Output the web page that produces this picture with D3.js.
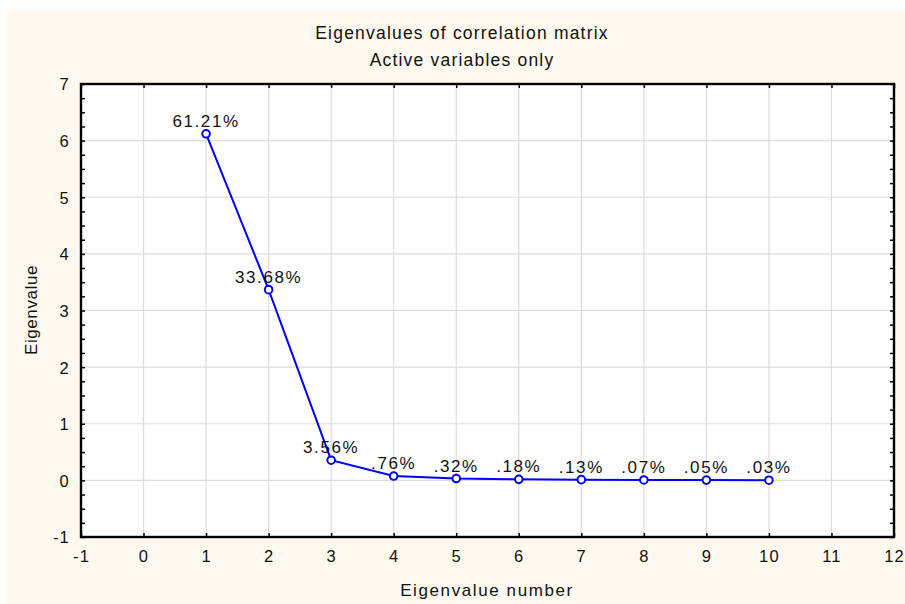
<!DOCTYPE html>
<html>
<script src="https://d3js.org/d3.v7.min.js"></script>
<style>
    body { margin: 0; background: #fff; }
    text { font-family: "Liberation Sans", Arial, sans-serif; fill: #111; }
    .tick text { font-size: 16.5px; letter-spacing: 1.2px; }
    .axis path { display: none; }
</style>
<body>
<svg width="905" height="604"></svg>
<script>
// eigenvalue number, eigenvalue and % of variance
const eigNumbers = [1, 2, 3, 4, 5, 6, 7, 8, 9, 10];
const eigenvalues = [6.121, 3.368, 0.356, 0.076, 0.032, 0.018, 0.013, 0.007, 0.005, 0.003];
const pctLabels = ["61.21%", "33.68%", "3.56%", ".76%", ".32%", ".18%", ".13%", ".07%", ".05%", ".03%"];
const xTicks = [-1, 0, 1, 2, 3, 4, 5, 6, 7, 8, 9, 10, 11, 12];
const yTicks = [-1, 0, 1, 2, 3, 4, 5, 6, 7];

const svg = d3.select('svg');
const pL = 81, pR = 894, pT = 84, pB = 537;

svg.append('rect').attr('x', 7).attr('y', 10).attr('width', 898).attr('height', 594)
    .attr('fill', '#fef9ef');
svg.append('rect').attr('x', pL).attr('y', pT).attr('width', pR - pL).attr('height', pB - pT)
    .attr('fill', '#fff');

const x = d3.scaleLinear().domain([-1, 12]).range([pL, pR]);
const y = d3.scaleLinear().domain([-1, 7]).range([pB, pT]);

// grid
svg.append('g').selectAll('line').data(xTicks.slice(1, -1)).join('line')
    .attr('x1', d => x(d)).attr('x2', d => x(d)).attr('y1', pT).attr('y2', pB)
    .attr('stroke', '#dcdcdc').attr('stroke-width', 1.2);
svg.append('g').selectAll('line').data(yTicks.slice(1, -1)).join('line')
    .attr('y1', d => y(d)).attr('y2', d => y(d)).attr('x1', pL).attr('x2', pR)
    .attr('stroke', '#dcdcdc').attr('stroke-width', 1.2);

// minor ticks on y, both sides, pointing inward
const minor = d3.range(-1, 7.001, 0.25);
svg.append('g').attr('class', 'axis').attr('transform', `translate(${pL},0)`)
    .call(d3.axisLeft(y).tickValues(minor).tickSize(-4).tickFormat(''))
    .selectAll('line').attr('stroke', '#000').attr('stroke-width', 1.5);
svg.append('g').attr('class', 'axis').attr('transform', `translate(${pR},0)`)
    .call(d3.axisRight(y).tickValues(minor).tickSize(-4).tickFormat(''))
    .selectAll('line').attr('stroke', '#000').attr('stroke-width', 1.5);
// y labels
svg.append('g').attr('class', 'axis').attr('transform', `translate(${pL},0)`)
    .call(d3.axisLeft(y).tickValues(yTicks).tickSize(0).tickPadding(11).tickFormat(d => String(d)))
    .selectAll('text').attr('dy', '0.36em');

// x ticks top/bottom inward, labels below
svg.append('g').attr('class', 'axis').attr('transform', `translate(0,${pB})`)
    .call(d3.axisBottom(x).tickValues(xTicks).tickSize(-4).tickPadding(13).tickFormat(d => String(d)))
    .selectAll('line').attr('stroke', '#000').attr('stroke-width', 1.5);
svg.append('g').attr('class', 'axis').attr('transform', `translate(0,${pT})`)
    .call(d3.axisTop(x).tickValues(xTicks).tickSize(-4).tickFormat(''))
    .selectAll('line').attr('stroke', '#000').attr('stroke-width', 1.5);

// frame
svg.append('rect').attr('x', pL).attr('y', pT).attr('width', pR - pL).attr('height', pB - pT)
    .attr('fill', 'none').attr('stroke', '#000').attr('stroke-width', 2.4);

// series
const pts = eigNumbers.map((n, i) => ({ n: n, v: eigenvalues[i], lab: pctLabels[i] }));
svg.append('path').datum(pts)
    .attr('d', d3.line().x(d => x(d.n)).y(d => y(d.v)))
    .attr('fill', 'none').attr('stroke', '#0000ff').attr('stroke-width', 2);
svg.append('g').selectAll('circle').data(pts).join('circle')
    .attr('cx', d => x(d.n)).attr('cy', d => y(d.v)).attr('r', 3.8)
    .attr('fill', '#fff').attr('stroke', '#0000ff').attr('stroke-width', 2);
svg.append('g').selectAll('text').data(pts).join('text')
    .attr('x', d => x(d.n)).attr('y', d => y(d.v) - 7)
    .attr('text-anchor', 'middle').style('font-size', '17px').style('letter-spacing', '1.6px')
    .text(d => d.lab);

// titles
svg.append('text').attr('x', 462).attr('y', 39).attr('text-anchor', 'middle')
    .style('font-size', '17.5px').style('letter-spacing', '1.2px').text('Eigenvalues of correlation matrix');
svg.append('text').attr('x', 462).attr('y', 66).attr('text-anchor', 'middle')
    .style('font-size', '17.5px').style('letter-spacing', '1.2px').text('Active variables only');
svg.append('text').attr('x', 487).attr('y', 596).attr('text-anchor', 'middle')
    .style('font-size', '17px').style('letter-spacing', '1.6px').text('Eigenvalue number');
svg.append('text').attr('transform', 'translate(37,310) rotate(-90)').attr('text-anchor', 'middle')
    .style('font-size', '17px').style('letter-spacing', '0.6px').text('Eigenvalue');
</script>
</body>
</html>
